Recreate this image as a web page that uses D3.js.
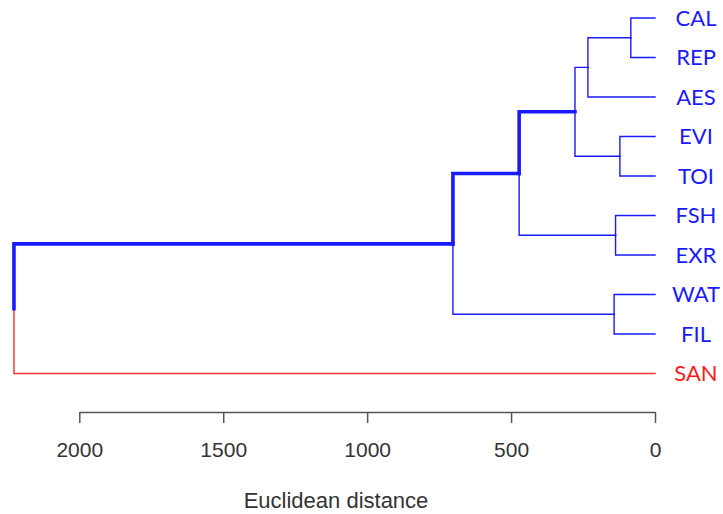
<!DOCTYPE html>
<html>
<head>
<meta charset="utf-8">
<script src="https://cdn.jsdelivr.net/npm/d3@7"></script>
<style>
  html, body { margin: 0; padding: 0; background: #fff; }
  svg { display: block; }
</style>
</head>
<body>
<svg id="chart" width="723" height="514"></svg>
<script>
// ---- data ----
const leaves = ["CAL", "REP", "AES", "EVI", "TOI", "FSH", "EXR", "WAT", "FIL", "SAN"];
// hclust-style merge list: negative = leaf index (1-based), positive = earlier merge (1-based)
const mergeLeft  = [-1, 1, -4, 2, -6, 4, -8, 6, 8];
const mergeRight = [-2, -3, -5, 3, -7, 5, -9, 7, -10];
const mergeHeights = [84, 233, 122, 278, 137, 472, 142, 702, 2227];
const leafGroups = [1, 1, 1, 1, 1, 1, 1, 1, 1, 2];
const mainBranch = [8, 6, 4]; // merges whose incoming branch is emphasised
const tickValues = [0, 500, 1000, 1500, 2000];
const axisTitle = "Euclidean distance";

// ---- build tree ----
function build(ref) {
  if (ref < 0) {
    const i = -ref - 1;
    return { name: leaves[i], height: 0, group: leafGroups[i], id: ref };
  }
  const m = ref - 1;
  return {
    id: ref,
    height: mergeHeights[m],
    children: [build(mergeLeft[m]), build(mergeRight[m])]
  };
}
const root = d3.hierarchy(build(mergeLeft.length));

const svg = d3.select("#chart");
const x = d3.scaleLinear().domain([0, 2000]).range([655, 79.3]);
const y = d3.scalePoint().domain(leaves).range([18, 373.5]);

const colorBlue = "#1a1aff";
const colorRed = "#ff3030";

root.eachAfter(n => {
  if (!n.children) {
    n.py = y(n.data.name);
    n.grp = n.data.group;
  } else {
    n.py = d3.mean(n.children, c => c.py);
    const gs = new Set(n.children.map(c => c.grp));
    n.grp = gs.size === 1 ? [...gs][0] : 0;
  }
  n.px = x(n.data.height);
});

const isMain = d => mainBranch.includes(d.target.data.id);
const links = root.links().sort((a, b) => (isMain(a) ? 1 : 0) - (isMain(b) ? 1 : 0));
const g = svg.append("g");
g.selectAll("path.link")
  .data(links)
  .join("path")
  .attr("class", "link")
  .attr("fill", "none")
  .attr("stroke", d => d.target.grp === 2 ? colorRed : colorBlue)
  .attr("stroke-width", d => isMain(d) ? 3.6 : 1.4)
  .attr("stroke-linejoin", "miter")
  .attr("stroke-linecap", "square")
  .attr("d", d => `M${d.source.px},${d.source.py}V${d.target.py}H${d.target.px}`);

// leaf labels
g.selectAll("text.leaf")
  .data(root.leaves())
  .join("text")
  .attr("class", "leaf")
  .attr("x", 696)
  .attr("y", d => d.py)
  .attr("dy", "0.36em")
  .attr("text-anchor", "middle")
  .attr("font-family", "Lato, 'Open Sans', sans-serif")
  .attr("font-size", 22)
  .attr("fill", d => d.grp === 2 ? "#ff1a1a" : "#1a1aff")
  .text(d => d.data.name);

// axis
const axis = d3.axisBottom(x)
  .tickValues(tickValues)
  .tickSize(11)
  .tickSizeOuter(0)
  .tickFormat(d3.format("d"));
const ag = svg.append("g")
  .attr("transform", "translate(0,412)")
  .call(axis);
ag.select(".domain").attr("stroke", "#555").attr("stroke-width", 1.5);
ag.selectAll(".tick line").attr("stroke", "#555").attr("stroke-width", 1.5);
ag.selectAll(".tick text")
  .attr("y", 45)
  .attr("dy", 0)
  .attr("fill", "#333")
  .attr("font-family", "'Liberation Sans', Arial, sans-serif")
  .attr("font-size", 21);

svg.append("text")
  .attr("x", 336)
  .attr("y", 508)
  .attr("text-anchor", "middle")
  .attr("font-family", "'Liberation Sans', Arial, sans-serif")
  .attr("font-size", 22)
  .attr("fill", "#333")
  .text(axisTitle);
</script>
</body>
</html>
